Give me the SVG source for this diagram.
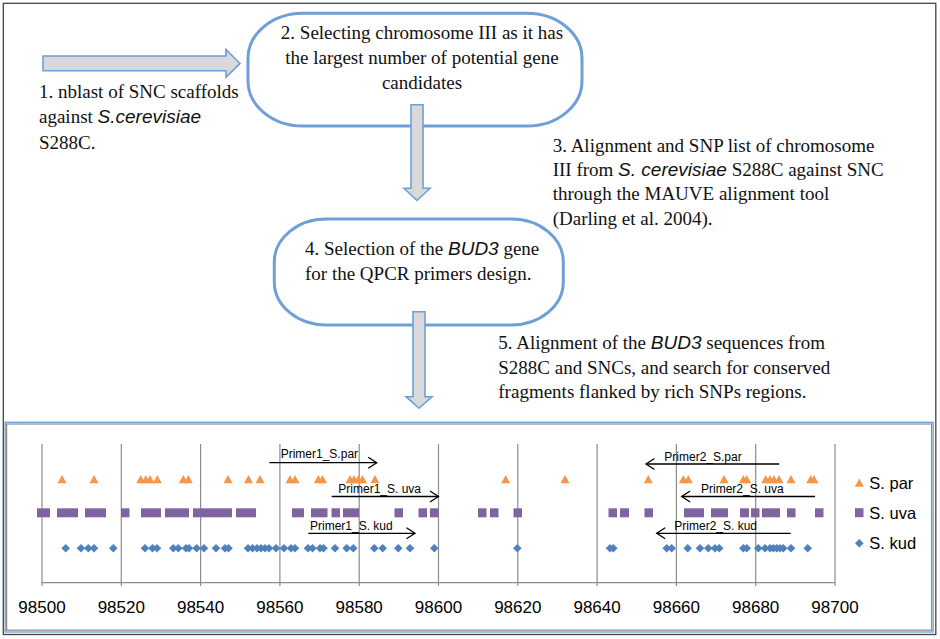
<svg xmlns="http://www.w3.org/2000/svg" width="940" height="639" viewBox="0 0 940 639">
<style>
.serif{font-family:"Liberation Serif","Times New Roman",serif;font-size:19px;fill:#111}
.it{font-family:"Liberation Sans",Arial,sans-serif;font-style:italic}
.node{fill:#fff;stroke:#6f9fd8;stroke-width:3}
.barrow{fill:#d9d9d9;stroke:#6f9fd8;stroke-width:1.6}
.grid{stroke:#8c8c8c;stroke-width:1.2}
.tick{font-family:"Liberation Sans",Arial,sans-serif;font-size:17px;fill:#000;text-anchor:middle}
.leg{font-family:"Liberation Sans",Arial,sans-serif;font-size:16.5px;fill:#000}
.plab{font-family:"Liberation Sans",Arial,sans-serif;font-size:12px;fill:#000}
.pline{stroke:#000;stroke-width:1.3;fill:none}
.tri{fill:#f79646}
.sq{fill:#8064a2}
.dia{fill:#4f81bd}
</style>
<defs>
<path id="tri" class="tri" d="M-4.5,4 L4.5,4 L0,-4.3 Z"/>
<path id="dia" class="dia" d="M0,-4.3 L4.3,0 L0,4.3 L-4.3,0 Z"/>
<marker id="openR" markerUnits="userSpaceOnUse" markerWidth="14" markerHeight="14" refX="10" refY="7" orient="auto" viewBox="0 0 14 14">
<path d="M1.5,1.5 L10,7 L1.5,12.5" fill="none" stroke="#000" stroke-width="1.3"/>
</marker>
</defs>
<rect x="0" y="0" width="940" height="639" fill="#fff"/>
<rect x="3.3" y="3.3" width="932.5" height="631.2" fill="none" stroke="#444" stroke-width="1.3"/>

<g id="node-step1">
<text class="serif" x="39" y="98.3">1. nblast of SNC scaffolds</text>
<text class="serif" x="39" y="123.3">against <tspan class="it">S.cerevisiae</tspan></text>
<text class="serif" x="39" y="149">S288C.</text>
</g>

<g id="node-step2">
<rect class="node" x="248" y="13.3" width="334" height="112.7" rx="55" ry="45"/>
<text class="serif" text-anchor="middle" x="422" y="39.3">2. Selecting chromosome III as it has</text>
<text class="serif" text-anchor="middle" x="422" y="64">the largest number of potential gene</text>
<text class="serif" text-anchor="middle" x="422" y="89.3">candidates</text>
</g>

<g id="node-step3">
<text class="serif" x="552.7" y="151.7">3. Alignment and SNP list of chromosome</text>
<text class="serif" x="552.7" y="175.7">III from <tspan class="it">S. cerevisiae</tspan> S288C against SNC</text>
<text class="serif" x="552.7" y="200">through the MAUVE alignment tool</text>
<text class="serif" x="552.7" y="225">(Darling et al. 2004).</text>
</g>

<g id="node-step4">
<rect class="node" x="274.3" y="219" width="289" height="106" rx="52" ry="43"/>
<text class="serif" x="305" y="255">4. Selection of the <tspan class="it">BUD3</tspan> gene</text>
<text class="serif" x="305" y="280">for the QPCR primers design.</text>
</g>

<g id="node-step5">
<text class="serif" x="498.3" y="348.5">5. Alignment of the <tspan class="it">BUD3</tspan> sequences from</text>
<text class="serif" x="498.3" y="374">S288C and SNCs, and search for conserved</text>
<text class="serif" x="498.3" y="398">fragments flanked by rich SNPs regions.</text>
</g>

<g id="connectors">
<path class="barrow" d="M43,56 L226,56 L226,49.5 L240,63.4 L226,77.3 L226,70.7 L43,70.7 Z"/>
<path class="barrow" d="M411,104.7 L423,104.7 L423,188.3 L430,188.3 L417,200.5 L404,188.3 L411,188.3 Z"/>
<path class="barrow" d="M413,311.7 L425,311.7 L425,396.7 L432,396.7 L419,408.3 L406,396.7 L413,396.7 Z"/>
</g>

<g id="chart">
<rect x="5.2" y="422.3" width="928" height="209.7" fill="none" stroke="#6fa8dc" stroke-width="1.4"/>
<rect x="6.6" y="424" width="925" height="206.2" fill="none" stroke="#8a8a8a" stroke-width="1.2"/>
<g id="grid">
<line class="grid" x1="42" y1="444" x2="42" y2="586"/>
<line class="grid" x1="121.3" y1="444" x2="121.3" y2="586"/>
<line class="grid" x1="200.6" y1="444" x2="200.6" y2="586"/>
<line class="grid" x1="279.9" y1="444" x2="279.9" y2="586"/>
<line class="grid" x1="359.2" y1="444" x2="359.2" y2="586"/>
<line class="grid" x1="438.5" y1="444" x2="438.5" y2="586"/>
<line class="grid" x1="517.8" y1="444" x2="517.8" y2="586"/>
<line class="grid" x1="597.1" y1="444" x2="597.1" y2="586"/>
<line class="grid" x1="676.4" y1="444" x2="676.4" y2="586"/>
<line class="grid" x1="755.7" y1="444" x2="755.7" y2="586"/>
<line class="grid" x1="835" y1="444" x2="835" y2="586"/>
<line class="grid" x1="42" y1="582.7" x2="835" y2="582.7"/>
</g>
<g id="ticks">
<text class="tick" x="42" y="613">98500</text>
<text class="tick" x="121.3" y="613">98520</text>
<text class="tick" x="200.6" y="613">98540</text>
<text class="tick" x="279.9" y="613">98560</text>
<text class="tick" x="359.2" y="613">98580</text>
<text class="tick" x="438.5" y="613">98600</text>
<text class="tick" x="517.8" y="613">98620</text>
<text class="tick" x="597.1" y="613">98640</text>
<text class="tick" x="676.4" y="613">98660</text>
<text class="tick" x="755.7" y="613">98680</text>
<text class="tick" x="835" y="613">98700</text>
</g>
<g id="s-par">
<use href="#tri" x="62" y="479.3"/><use href="#tri" x="94" y="479.3"/>
<use href="#tri" x="140.7" y="479.3"/><use href="#tri" x="145.7" y="479.3"/><use href="#tri" x="150" y="479.3"/><use href="#tri" x="157.3" y="479.3"/>
<use href="#tri" x="183.3" y="479.3"/><use href="#tri" x="188.3" y="479.3"/>
<use href="#tri" x="228" y="479.3"/><use href="#tri" x="248.5" y="479.3"/><use href="#tri" x="260" y="479.3"/>
<use href="#tri" x="290" y="479.3"/><use href="#tri" x="295" y="479.3"/>
<use href="#tri" x="318.3" y="479.3"/><use href="#tri" x="322.5" y="479.3"/>
<use href="#tri" x="350" y="479.3"/><use href="#tri" x="354" y="479.3"/><use href="#tri" x="358.3" y="479.3"/><use href="#tri" x="362.5" y="479.3"/>
<use href="#tri" x="375" y="479.3"/>
<use href="#tri" x="505.7" y="479.3"/><use href="#tri" x="565" y="479.3"/>
<use href="#tri" x="648.3" y="479.3"/><use href="#tri" x="683.3" y="479.3"/><use href="#tri" x="688.3" y="479.3"/>
<use href="#tri" x="724" y="479.3"/><use href="#tri" x="743.3" y="479.3"/><use href="#tri" x="746.7" y="479.3"/>
<use href="#tri" x="765.7" y="479.3"/><use href="#tri" x="770" y="479.3"/><use href="#tri" x="774" y="479.3"/><use href="#tri" x="779" y="479.3"/>
<use href="#tri" x="791" y="479.3"/><use href="#tri" x="810.7" y="479.3"/><use href="#tri" x="814" y="479.3"/>
</g>
<g id="s-uva" class="sq">
<rect x="37" y="508.3" width="13" height="9"/>
<rect x="57" y="508.3" width="21" height="9"/>
<rect x="85" y="508.3" width="21" height="9"/>
<rect x="121" y="508.3" width="8.5" height="9"/>
<rect x="141" y="508.3" width="20" height="9"/>
<rect x="165" y="508.3" width="24" height="9"/>
<rect x="193" y="508.3" width="39" height="9"/>
<rect x="236" y="508.3" width="20" height="9"/>
<rect x="292" y="508.3" width="12" height="9"/>
<rect x="311" y="508.3" width="16.5" height="9"/>
<rect x="331.5" y="508.3" width="8.5" height="9"/>
<rect x="343" y="508.3" width="16" height="9"/>
<rect x="394.5" y="508.3" width="8.5" height="9"/>
<rect x="418.5" y="508.3" width="8.5" height="9"/>
<rect x="430" y="508.3" width="8.5" height="9"/>
<rect x="478" y="508.3" width="8.5" height="9"/>
<rect x="490" y="508.3" width="8.5" height="9"/>
<rect x="513.5" y="508.3" width="8.5" height="9"/>
<rect x="608.5" y="508.3" width="8.5" height="9"/>
<rect x="620" y="508.3" width="9" height="9"/>
<rect x="644.5" y="508.3" width="8.5" height="9"/>
<rect x="684" y="508.3" width="20" height="9"/>
<rect x="711" y="508.3" width="17" height="9"/>
<rect x="740" y="508.3" width="9" height="9"/>
<rect x="751" y="508.3" width="8.5" height="9"/>
<rect x="762" y="508.3" width="18" height="9"/>
<rect x="787" y="508.3" width="8.5" height="9"/>
<rect x="815" y="508.3" width="8.5" height="9"/>
</g>
<g id="s-kud">
<use href="#dia" x="65.7" y="548.3"/><use href="#dia" x="81" y="548.3"/><use href="#dia" x="88.3" y="548.3"/><use href="#dia" x="94" y="548.3"/>
<use href="#dia" x="113.3" y="548.3"/><use href="#dia" x="145" y="548.3"/><use href="#dia" x="152.5" y="548.3"/><use href="#dia" x="157" y="548.3"/>
<use href="#dia" x="173.3" y="548.3"/><use href="#dia" x="178.3" y="548.3"/><use href="#dia" x="186" y="548.3"/><use href="#dia" x="189" y="548.3"/>
<use href="#dia" x="196.7" y="548.3"/><use href="#dia" x="204" y="548.3"/><use href="#dia" x="216" y="548.3"/><use href="#dia" x="225" y="548.3"/><use href="#dia" x="228.5" y="548.3"/>
<use href="#dia" x="248" y="548.3"/><use href="#dia" x="252.5" y="548.3"/><use href="#dia" x="257" y="548.3"/><use href="#dia" x="261" y="548.3"/><use href="#dia" x="265" y="548.3"/><use href="#dia" x="269" y="548.3"/>
<use href="#dia" x="276" y="548.3"/><use href="#dia" x="284" y="548.3"/><use href="#dia" x="291" y="548.3"/><use href="#dia" x="295" y="548.3"/>
<use href="#dia" x="308" y="548.3"/><use href="#dia" x="312.5" y="548.3"/><use href="#dia" x="320" y="548.3"/><use href="#dia" x="323.5" y="548.3"/>
<use href="#dia" x="335" y="548.3"/><use href="#dia" x="346.7" y="548.3"/><use href="#dia" x="353.3" y="548.3"/>
<use href="#dia" x="374.3" y="548.3"/><use href="#dia" x="382.7" y="548.3"/><use href="#dia" x="398.3" y="548.3"/><use href="#dia" x="410" y="548.3"/>
<use href="#dia" x="434.3" y="548.3"/><use href="#dia" x="517.3" y="548.3"/><use href="#dia" x="610" y="548.3"/><use href="#dia" x="613.3" y="548.3"/>
<use href="#dia" x="666.7" y="548.3"/><use href="#dia" x="671.7" y="548.3"/><use href="#dia" x="687.7" y="548.3"/>
<use href="#dia" x="700" y="548.3"/><use href="#dia" x="708.3" y="548.3"/><use href="#dia" x="715" y="548.3"/><use href="#dia" x="719.3" y="548.3"/>
<use href="#dia" x="743.3" y="548.3"/><use href="#dia" x="746.7" y="548.3"/>
<use href="#dia" x="758.3" y="548.3"/><use href="#dia" x="765" y="548.3"/><use href="#dia" x="770" y="548.3"/><use href="#dia" x="773.3" y="548.3"/>
<use href="#dia" x="776.7" y="548.3"/><use href="#dia" x="780" y="548.3"/><use href="#dia" x="783.3" y="548.3"/><use href="#dia" x="791" y="548.3"/>
<use href="#dia" x="807.7" y="548.3"/>
</g>
<g id="primers">
<line class="pline" x1="269.3" y1="462.7" x2="376.7" y2="462.7" marker-end="url(#openR)"/>
<text class="plab" x="280.7" y="458.3">Primer1_S.par</text>
<line class="pline" x1="331.7" y1="496.5" x2="438.5" y2="496.5" marker-end="url(#openR)"/>
<text class="plab" x="338.3" y="493.3">Primer1_S. uva</text>
<line class="pline" x1="308.3" y1="533.3" x2="415" y2="533.3" marker-end="url(#openR)"/>
<text class="plab" x="310" y="530">Primer1_S. kud</text>
<line class="pline" x1="779.3" y1="464" x2="646" y2="464" marker-end="url(#openR)"/>
<text class="plab" x="664.3" y="460.5">Primer2_S.par</text>
<line class="pline" x1="815" y1="496.5" x2="681.7" y2="496.5" marker-end="url(#openR)"/>
<text class="plab" x="701" y="493.3">Primer2_S. uva</text>
<line class="pline" x1="790.7" y1="533.3" x2="656.7" y2="533.3" marker-end="url(#openR)"/>
<text class="plab" x="674.3" y="529.5">Primer2_S. kud</text>
</g>
<g id="legend">
<use href="#tri" x="859.3" y="482.7"/>
<text class="leg" x="869.3" y="488.5">S. par</text>
<rect class="sq" x="855" y="508.2" width="8.5" height="9"/>
<text class="leg" x="869.3" y="518.5">S. uva</text>
<use href="#dia" x="859.3" y="543.3"/>
<text class="leg" x="869.3" y="548.8">S. kud</text>
</g>
</g>
</svg>
